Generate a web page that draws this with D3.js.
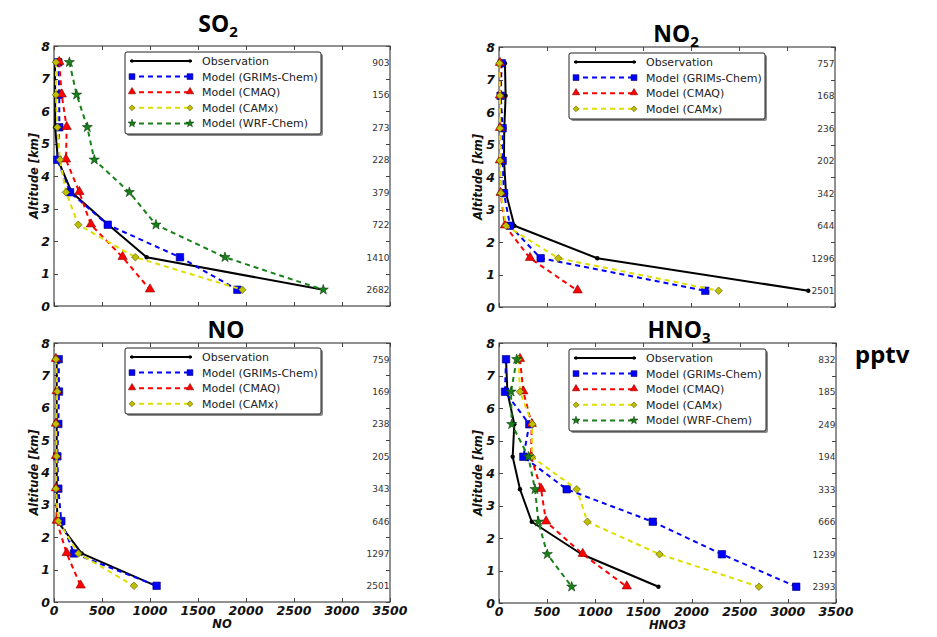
<!DOCTYPE html>
<html><head><meta charset="utf-8">
<script src="https://cdn.jsdelivr.net/npm/d3@7"></script>
<style>
html,body{margin:0;padding:0;background:#fff;}
svg{display:block;}
</style></head>
<body>
<svg id="chart" width="937" height="637"></svg>
<script>
// ---------------- DATA ----------------
const altitudes = [7.5, 6.5, 5.5, 4.5, 3.5, 2.5, 1.5, 0.5];
const xTicks = [0, 500, 1000, 1500, 2000, 2500, 3000, 3500];
const yTicks = [0, 1, 2, 3, 4, 5, 6, 7, 8];
const seriesNames = ["Observation", "Model (GRIMs-Chem)", "Model (CMAQ)", "Model (CAMx)", "Model (WRF-Chem)"];

// SO2 (pptv)
const so2Obs   = [10, 12, 12, 40, 184, 566, 965, 2805];
const so2Grims = [45, 55, 55, 35, 167, 560, 1312, 1910];
const so2Cmaq  = [55, 80, 132, 125, 264, 385, 715, 1000];
const so2Camx  = [20, 20, 35, 62, 125, 253, 847, 1962];
const so2Wrf   = [160, 236, 347, 420, 785, 1062, 1781, 2805];
const so2Counts = [903, 156, 273, 228, 379, 722, 1410, 2682];

// NO2 (pptv)
const no2Obs   = [62, 69, 55, 52, 73, 160, 1024, 3222];
const no2Grims = [28, 17, 38, 38, 52, 115, 434, 2149];
const no2Cmaq  = [10, 10, 10, 10, 17, 62, 323, 819];
const no2Camx  = [5, 10, 10, 10, 20, 73, 618, 2288];
const no2Counts = [757, 168, 236, 202, 342, 644, 1296, 2501];

// NO (pptv)
const noObs   = [28, 28, 28, 28, 28, 35, 288, 1062];
const noGrims = [49, 52, 45, 35, 45, 76, 208, 1069];
const noCmaq  = [20, 28, 20, 20, 20, 28, 132, 278];
const noCamx  = [20, 35, 20, 28, 20, 45, 253, 833];
const noCounts = [759, 169, 238, 205, 343, 646, 1297, 2501];

// HNO3 (pptv)
const hno3Obs   = [73, 87, 159, 142, 218, 340, 859, 1656];
const hno3Grims = [73, 62, 315, 253, 703, 1597, 2315, 3087];
const hno3Cmaq  = [218, 253, 340, 333, 437, 489, 870, 1327];
const hno3Camx  = [201, 218, 346, 340, 807, 918, 1667, 2700];
const hno3Wrf   = [184, 125, 132, 305, 374, 409, 502, 755];
const hno3Counts = [832, 185, 249, 194, 333, 666, 1239, 2393];

// ---------------- STYLES ----------------
const styles = [
  {line:"#000000", dash:null, width:2, marker:"circle", fill:"#000000", stroke:"#000000", size:2.2},
  {line:"#0000ff", dash:"5,4", width:2, marker:"square", fill:"#0000ff", stroke:"#00006a", size:56},
  {line:"#ff0000", dash:"5,4", width:2, marker:"triangle", fill:"#ff0000", stroke:"#8a0000", size:38},
  {line:"#dede00", dash:"5,4", width:2, marker:"diamond", fill:"#bfbf00", stroke:"#5a5a00", size:28},
  {line:"#1a801a", dash:"5,4", width:2, marker:"star", fill:"#1a801a", stroke:"#0b3d0b", size:32}
];

const panels = [
  {title:"SO", sub:"2", tx:218, ty:32, left:54, right:390, top:46, bottom:306,
   series:[so2Obs, so2Grims, so2Cmaq, so2Camx, so2Wrf], counts:so2Counts,
   legend:{x:125, y:52, w:196, h:82}, ylabX:38, showX:false, xlabel:null},
  {title:"NO", sub:"2", tx:676, ty:42, left:499, right:835, top:47, bottom:307,
   series:[no2Obs, no2Grims, no2Cmaq, no2Camx], counts:no2Counts,
   legend:{x:569, y:53, w:196, h:66}, ylabX:482, showX:false, xlabel:null},
  {title:"NO", sub:"", tx:226, ty:338, left:54, right:390, top:343, bottom:602,
   series:[noObs, noGrims, noCmaq, noCamx], counts:noCounts,
   legend:{x:125, y:348, w:196, h:66}, ylabX:38, showX:true, xlabel:"NO"},
  {title:"HNO", sub:"3", tx:679, ty:338, left:499, right:836, top:343, bottom:603,
   series:[hno3Obs, hno3Grims, hno3Cmaq, hno3Camx, hno3Wrf], counts:hno3Counts,
   legend:{x:569, y:349, w:197, h:82}, ylabX:482, showX:true, xlabel:"HNO3"}
];

const svg = d3.select("#chart");
const tickFont = "'DejaVu Sans', sans-serif";

function symbolPath(kind, size) {
  if (kind === "square") return d3.symbol().type(d3.symbolSquare).size(size)();
  if (kind === "triangle") return d3.symbol().type(d3.symbolTriangle).size(size)();
  if (kind === "star") return d3.symbol().type(d3.symbolStar).size(size)();
  if (kind === "diamond") return d3.symbol().type(d3.symbolSquare).size(size)();
  return null;
}

function drawMarker(g, st, x, y, scale) {
  scale = scale || 1;
  if (st.marker === "circle") {
    g.append("circle").attr("cx", x).attr("cy", y).attr("r", st.size * Math.sqrt(scale))
      .attr("fill", st.fill);
  } else {
    const p = g.append("path").attr("d", symbolPath(st.marker, st.size * scale))
      .attr("fill", st.fill).attr("stroke", st.stroke).attr("stroke-width", 0.6);
    let tr = `translate(${x},${y})`;
    if (st.marker === "diamond") tr += " rotate(45)";
    if (st.marker === "triangle") tr += " translate(0,-0.5)";
    p.attr("transform", tr);
  }
}

panels.forEach(p => {
  const x = d3.scaleLinear().domain([0, 3500]).range([p.left, p.right]);
  const y = d3.scaleLinear().domain([0, 8]).range([p.bottom, p.top]);
  const g = svg.append("g");

  // frame
  g.append("rect").attr("x", p.left).attr("y", p.top)
    .attr("width", p.right - p.left).attr("height", p.bottom - p.top)
    .attr("fill", "none").attr("stroke", "#222").attr("stroke-width", 1);

  // ticks (inward, all sides)
  const tk = g.append("g").attr("stroke", "#444").attr("stroke-width", 1);
  xTicks.forEach(t => {
    const xx = Math.round(x(t)) + 0.5;
    tk.append("line").attr("x1", xx).attr("x2", xx).attr("y1", p.bottom).attr("y2", p.bottom - 4);
    tk.append("line").attr("x1", xx).attr("x2", xx).attr("y1", p.top).attr("y2", p.top + 4);
  });
  yTicks.forEach(t => {
    const yy = Math.round(y(t)) + 0.5;
    tk.append("line").attr("x1", p.left).attr("x2", p.left + 4).attr("y1", yy).attr("y2", yy);
    tk.append("line").attr("x1", p.right).attr("x2", p.right - 4).attr("y1", yy).attr("y2", yy);
  });

  // y tick labels
  yTicks.forEach(t => {
    g.append("text").attr("x", p.left - 4).attr("y", y(t) + 4.5)
      .attr("text-anchor", "end").attr("font-family", tickFont)
      .attr("font-weight", "bold").attr("font-style", "italic")
      .attr("font-size", 12.5).attr("fill", "#111").text(t);
  });

  // x tick labels (top panels' labels are hidden under the lower panels in the original)
  if (p.showX) {
    xTicks.forEach(t => {
      g.append("text").attr("x", x(t)).attr("y", p.bottom + 13)
        .attr("text-anchor", "middle").attr("font-family", tickFont)
        .attr("font-weight", "bold").attr("font-style", "italic")
        .attr("font-size", 12.5).attr("fill", "#111").text(t);
    });
  }

  // x label
  if (p.xlabel) {
    g.append("text").attr("x", (p.left + p.right) / 2).attr("y", p.bottom + 26)
      .attr("text-anchor", "middle").attr("font-family", tickFont)
      .attr("font-weight", "bold").attr("font-style", "italic")
      .attr("font-size", 11.5).attr("fill", "#111").text(p.xlabel);
  }

  // y label
  g.append("text")
    .attr("transform", `translate(${p.ylabX},${(p.top + p.bottom) / 2}) rotate(-90)`)
    .attr("text-anchor", "middle").attr("font-family", tickFont)
    .attr("font-weight", "bold").attr("font-style", "italic")
    .attr("font-size", 11.5).attr("fill", "#111").text("Altitude [km]");

  // title
  const tt = g.append("text").attr("x", p.tx).attr("y", p.ty)
    .attr("text-anchor", "middle").attr("font-family", "'Noto Sans', 'Open Sans', sans-serif")
    .attr("font-weight", "bold").attr("font-size", 23).attr("fill", "#000");
  tt.append("tspan").text(p.title);
  if (p.sub) tt.append("tspan").attr("font-size", 15).attr("dy", 5).text(p.sub);

  // counts on the right
  p.counts.forEach((c, i) => {
    g.append("text").attr("x", p.right - 0.5).attr("y", y(altitudes[i]) + 3.5)
      .attr("text-anchor", "end").attr("font-family", tickFont)
      .attr("font-size", 9).attr("fill", "#333").text(c);
  });

  // series
  const line = d3.line().x(d => x(d[0])).y(d => y(d[1]));
  p.series.forEach((vals, si) => {
    const st = styles[si];
    const pts = vals.map((v, i) => [v, altitudes[i]]);
    const sg = g.append("g");
    sg.append("path").attr("d", line(pts)).attr("fill", "none")
      .attr("stroke", st.line).attr("stroke-width", st.width)
      .attr("stroke-dasharray", st.dash).attr("stroke-linejoin", "round");
    pts.forEach(d => drawMarker(sg, st, x(d[0]), y(d[1]), 1));
  });

  // legend
  const L = p.legend;
  const lg = g.append("g");
  lg.append("rect").attr("x", L.x + 2).attr("y", L.y + 2).attr("width", L.w).attr("height", L.h)
    .attr("rx", 2).attr("fill", "#8c8c8c");
  lg.append("rect").attr("x", L.x).attr("y", L.y).attr("width", L.w).attr("height", L.h)
    .attr("rx", 2).attr("fill", "#fff").attr("stroke", "#222").attr("stroke-width", 1);
  p.series.forEach((vals, si) => {
    const st = styles[si];
    const yy = L.y + 9 + si * 15.6;
    const x1 = L.x + 5, x2 = L.x + 67;
    lg.append("line").attr("x1", x1).attr("x2", x2).attr("y1", yy).attr("y2", yy)
      .attr("stroke", st.line).attr("stroke-width", st.width).attr("stroke-dasharray", st.dash);
    drawMarker(lg, st, x1 + 2, yy, 0.6);
    drawMarker(lg, st, x2 - 2, yy, 0.6);
    lg.append("text").attr("x", L.x + 77).attr("y", yy + 4)
      .attr("font-family", tickFont).attr("font-size", 11).attr("fill", "#222")
      .text(seriesNames[si]);
  });
});

// unit label
svg.append("text").attr("x", 855).attr("y", 363)
  .attr("font-family", "'Noto Sans', 'Open Sans', sans-serif")
  .attr("font-weight", "bold").attr("font-size", 24).attr("fill", "#000").text("pptv");
</script>
</body></html>
